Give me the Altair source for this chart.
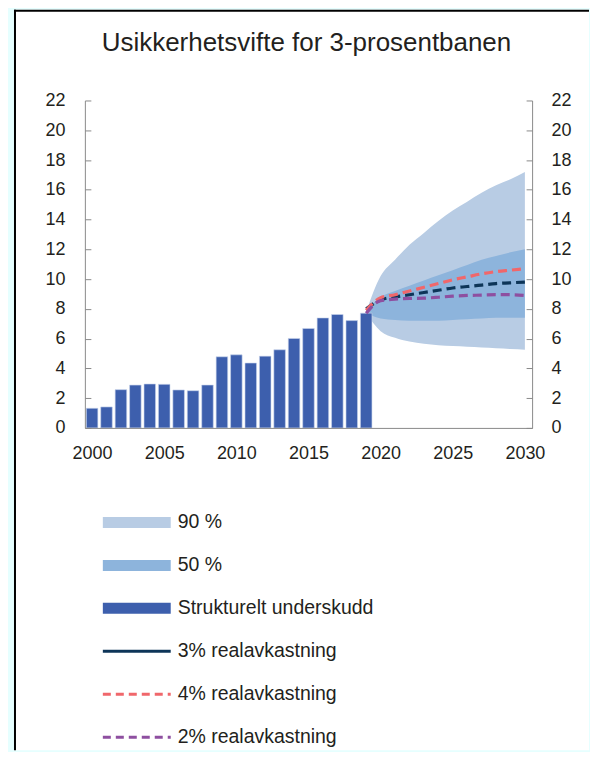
import altair as alt
import pandas as pd

# ---------------- data ----------------
years_bar = list(range(2000, 2020))
deficit = [1.32, 1.41, 2.57, 2.88, 2.95, 2.93, 2.55, 2.50, 2.88, 4.78,
           4.91, 4.36, 4.82, 5.25, 6.01, 6.68, 7.39, 7.62, 7.21, 7.71]

years_fan = list(range(2019, 2031))
p90_lo = [7.7, 6.5, 6.05, 5.8, 5.65, 5.55, 5.5, 5.45, 5.4, 5.35, 5.3, 5.25]
p90_hi = [7.8, 10.2, 11.3, 12.3, 13.1, 13.9, 14.6, 15.2, 15.8, 16.3, 16.7, 17.2]
p50_lo = [7.7, 7.35, 7.25, 7.2, 7.2, 7.2, 7.25, 7.3, 7.35, 7.4, 7.4, 7.4]
p50_hi = [7.9, 8.8, 9.2, 9.55, 9.9, 10.25, 10.6, 10.95, 11.3, 11.55, 11.8, 12.0]
r3 = [8.0, 8.6, 8.8, 8.95, 9.1, 9.25, 9.4, 9.5, 9.6, 9.7, 9.75, 9.8]
r4 = [7.9, 8.75, 8.95, 9.2, 9.45, 9.7, 9.95, 10.15, 10.35, 10.5, 10.6, 10.7]
r2 = [7.7, 8.55, 8.65, 8.7, 8.72, 8.78, 8.85, 8.9, 8.92, 8.95, 8.95, 8.9]

line_series = ["3% realavkastning", "4% realavkastning", "2% realavkastning"]
legend_labels = ["90 %", "50 %", "Strukturelt underskudd",
                 "3% realavkastning", "4% realavkastning", "2% realavkastning"]

x_ticks = [2000, 2005, 2010, 2015, 2020, 2025, 2030]
y_ticks = list(range(0, 23, 2))
title_text = "Usikkerhetsvifte for 3-prosentbanen"

# ---------------- styles ----------------
C90 = "#B8CCE4"
C50 = "#8DB4DC"
CBAR = "#3D5FAD"
CNAVY = "#0D3558"
CRED = "#F0676B"
CPURPLE = "#8E4FA0"
line_colors = [CNAVY, CRED, CPURPLE]
legend_colors = [C90, C50, CBAR, CNAVY, CRED, CPURPLE]

FONT = "Liberation Sans, Arial, sans-serif"
TXT = "#231F20"
AX = "#8A8A8A"
W, H = 448, 328

bars_df = pd.DataFrame({"year": years_bar, "value": deficit})
fan_df = pd.DataFrame({"year": years_fan, "lo90": p90_lo, "hi90": p90_hi,
                       "lo50": p50_lo, "hi50": p50_hi})
lines_df = pd.DataFrame({
    "year": years_fan * 3,
    "value": r3 + r4 + r2,
    "series": sum([[s] * len(years_fan) for s in line_series], []),
})
legend_df = pd.DataFrame({"label": legend_labels, "idx": list(range(len(legend_labels)))})
dummy = alt.Data(values=[{"k": 0}])

xscale = alt.Scale(domain=[1999.5, 2030.5], nice=False, zero=False)
yscale = alt.Scale(domain=[0, 22], nice=False)

xaxis = alt.Axis(values=x_ticks, format="d", title=None, ticks=False, tickSize=0,
                 grid=False, domainColor=AX, labelFont=FONT, labelFontSize=18,
                 labelColor=TXT, labelPadding=17, labelFlush=False, zindex=1)

def label_axis(orient, pad):
    return alt.Axis(orient=orient, values=y_ticks, title=None, ticks=False, tickSize=0,
                    grid=False, domainColor=AX, labelFont=FONT, labelFontSize=18,
                    labelColor=TXT, labelPadding=pad, zindex=1)

def tick_axis(orient):
    return alt.Axis(orient=orient, offset=-W, values=y_ticks, title=None, labels=False,
                    domain=False, ticks=True, tickSize=6, tickColor=AX, grid=False,
                    zindex=1)

# ---------------- frame ----------------
frame_fill = alt.Chart(dummy).mark_rect(fill="white", strokeWidth=0).encode(
    x=alt.value(-71), x2=alt.value(505), y=alt.value(-91), y2=alt.value(651))
frame_left = alt.Chart(dummy).mark_rule(color="black", strokeWidth=2).encode(
    x=alt.value(-70), y=alt.value(-91), y2=alt.value(651))
frame_top = alt.Chart(dummy).mark_rule(color="black", strokeWidth=2).encode(
    x=alt.value(-71), x2=alt.value(505), y=alt.value(-90))

# ---------------- main plot ----------------
fan90 = alt.Chart(fan_df).mark_area(color=C90, interpolate="monotone").encode(
    x=alt.X("year:Q", scale=xscale, axis=xaxis),
    y=alt.Y("lo90:Q", scale=yscale, axis=label_axis("left", 20)),
    y2="hi90:Q")
fan50 = alt.Chart(fan_df).mark_area(color=C50, interpolate="monotone").encode(
    x=alt.X("year:Q", scale=xscale, axis=xaxis),
    y=alt.Y("lo50:Q", scale=yscale, axis=label_axis("right", 19)),
    y2="hi50:Q")
bars = alt.Chart(bars_df).transform_calculate(
    x0="datum.year - 0.4", x1="datum.year + 0.4"
).mark_bar(color=CBAR, stroke="#C9D5EC", strokeWidth=0.6).encode(
    x=alt.X("x0:Q", scale=xscale, axis=xaxis),
    x2="x1:Q",
    y=alt.Y("value:Q", scale=yscale, axis=tick_axis("right")),
    y2=alt.datum(0))
lines = alt.Chart(lines_df).mark_line(strokeDash=[9, 5], strokeWidth=3.2,
                                      interpolate="monotone").encode(
    x=alt.X("year:Q", scale=xscale, axis=xaxis),
    y=alt.Y("value:Q", scale=yscale, axis=tick_axis("left")),
    color=alt.Color("series:N", scale=alt.Scale(domain=line_series, range=line_colors),
                    legend=None))

main = alt.layer(frame_fill, frame_left, frame_top, fan90, fan50, bars, lines).resolve_axis(
    y="independent"
).properties(
    width=W, height=H,
    title=alt.TitleParams(title_text, font=FONT, fontSize=26, fontWeight="normal",
                          color=TXT, anchor="middle", offset=-47, dx=-2, zindex=1))

# ---------------- legend panel ----------------
ly = alt.Y("label:N", scale=alt.Scale(type="point", domain=legend_labels, padding=0.25),
           axis=None)
lcolor = alt.Color("label:N", scale=alt.Scale(domain=legend_labels, range=legend_colors),
                   legend=None)
patches = alt.Chart(legend_df).transform_filter("datum.idx < 3").mark_rule(
    strokeWidth=11, strokeCap="butt").encode(
    x=alt.value(18), x2=alt.value(86), y=ly, color=lcolor)
leg_lines = alt.Chart(legend_df).transform_filter("datum.idx >= 3").mark_rule(
    strokeWidth=3, strokeCap="butt").encode(
    x=alt.value(18), x2=alt.value(86), y=ly, color=lcolor,
    strokeDash=alt.StrokeDash("label:N", scale=alt.Scale(domain=legend_labels[3:],
                              range=[[1, 0], [8, 5], [8, 5]]), legend=None))
leg_text = alt.Chart(legend_df).mark_text(align="left", baseline="middle", font=FONT,
                                          fontSize=19.5, color=TXT).encode(
    x=alt.value(93), y=ly, text="label:N")
legend = alt.layer(patches, leg_lines, leg_text).properties(width=W, height=236.5)

chart = alt.vconcat(main, legend, spacing=84, bounds="flush").resolve_scale(
    color="independent", strokeDash="independent", x="independent", y="independent"
).properties(
    background="#E6FFFF",
    padding={"left": 5, "top": 0, "right": 0, "bottom": 0},
).configure_view(strokeWidth=0)

chart.save("out.html", embed_options={"renderer": "svg", "actions": False})
